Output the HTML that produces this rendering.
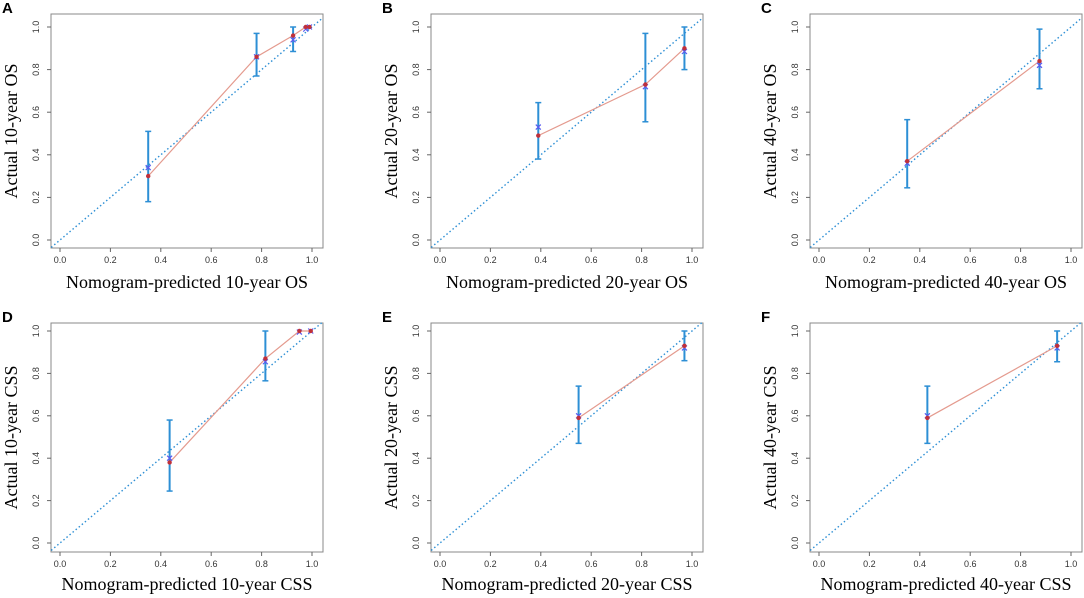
<!DOCTYPE html>
<html><head><meta charset="utf-8"><style>
html,body{margin:0;padding:0;background:#fff;}
svg{display:block;}
</style></head><body>
<svg id="fig" width="1084" height="598" xmlns="http://www.w3.org/2000/svg"></svg>
<script>
const panelLetters = ["A","B","C","D","E","F"];
const xTitles = ["Nomogram-predicted 10-year OS","Nomogram-predicted 20-year OS","Nomogram-predicted 40-year OS","Nomogram-predicted 10-year CSS","Nomogram-predicted 20-year CSS","Nomogram-predicted 40-year CSS"];
const yTitles = ["Actual 10-year OS","Actual 20-year OS","Actual 40-year OS","Actual 10-year CSS","Actual 20-year CSS","Actual 40-year CSS"];
const tickValues = [0,0.2,0.4,0.6,0.8,1.0];
const tickLabels = ["0.0","0.2","0.4","0.6","0.8","1.0"];
const predA = [0.35,0.78,0.925,0.975,0.99];
const obsA  = [0.30,0.86,0.96,1.0,1.0];
const corrA = [0.34,0.86,0.94,0.99,1.0];
const loA   = [0.18,0.77,0.885,null,null];
const hiA   = [0.51,0.97,1.0,null,null];
const predB = [0.39,0.815,0.97];
const obsB  = [0.49,0.73,0.90];
const corrB = [0.53,0.72,0.885];
const loB   = [0.38,0.555,0.80];
const hiB   = [0.645,0.97,1.0];
const predC = [0.35,0.875];
const obsC  = [0.37,0.84];
const corrC = [0.36,0.82];
const loC   = [0.245,0.71];
const hiC   = [0.565,0.99];
const predD = [0.435,0.815,0.95,0.995];
const obsD  = [0.38,0.87,1.0,1.0];
const corrD = [0.40,0.855,0.995,1.0];
const loD   = [0.245,0.765,null,null];
const hiD   = [0.58,1.0,null,null];
const predE = [0.55,0.97];
const obsE  = [0.59,0.93];
const corrE = [0.60,0.92];
const loE   = [0.47,0.86];
const hiE   = [0.74,1.0];
const predF = [0.43,0.945];
const obsF  = [0.59,0.93];
const corrF = [0.60,0.92];
const loF   = [0.47,0.855];
const hiF   = [0.74,1.0];
const allPred=[predA,predB,predC,predD,predE,predF];
const allObs=[obsA,obsB,obsC,obsD,obsE,obsF];
const allCorr=[corrA,corrB,corrC,corrD,corrE,corrF];
const allLo=[loA,loB,loC,loD,loE,loF];
const allHi=[hiA,hiB,hiC,hiD,hiE,hiF];

const NS="http://www.w3.org/2000/svg";
const svg=document.getElementById('fig');
function mk(tag,attrs,parent){const e=document.createElementNS(NS,tag);for(const k in attrs)e.setAttribute(k,attrs[k]);(parent||svg).appendChild(e);return e;}
const colLeft=[51,431,810];
const rows=[{top:14,bottom:248,y0:240,y1:27,xt:288},{top:323,bottom:552,y0:543,y1:331,xt:590}];
for(let p=0;p<6;p++){
  const c=p%3,r=Math.floor(p/3),R=rows[r];
  const L=colLeft[c],W=272;
  const x0=L+9,x1=L+261;
  const sx=v=>x0+(x1-x0)*v, sy=v=>R.y0+(R.y1-R.y0)*v;
  const g=mk('g',{});
  
  
  const lt=mk('text',{x:L-49,y:R.top-1,'font-family':'Liberation Sans, sans-serif','font-weight':'bold','font-size':'15'},g);
  lt.textContent=panelLetters[p];
  
  const box=mk('rect',{x:L,y:R.top,width:W,height:R.bottom-R.top,fill:'none',stroke:'#888','stroke-width':'1'},g);
  
  tickValues.forEach((v,i)=>{
    mk('line',{x1:sx(v),x2:sx(v),y1:R.bottom,y2:R.bottom+4,stroke:'#666'},g);
    const tx=mk('text',{x:sx(v),y:R.bottom+15,'text-anchor':'middle','font-family':'Liberation Sans, sans-serif','font-size':'9',fill:'#333'},g);
    tx.textContent=tickLabels[i];
    
    mk('line',{x1:L-4,x2:L,y1:sy(v),y2:sy(v),stroke:'#666'},g);
    const ty=mk('text',{x:L-12,y:sy(v),'text-anchor':'middle','font-family':'Liberation Sans, sans-serif','font-size':'9',fill:'#333',transform:`rotate(-90 ${L-12} ${sy(v)})`},g);
    ty.textContent=tickLabels[i];
    
  });
  const xt=mk('text',{x:L+W/2,y:R.xt,'text-anchor':'middle','font-family':'Liberation Serif, serif','font-size':'18'},g);
  xt.textContent=xTitles[p];
  
  const yx=L-34,yy=(R.top+R.bottom)/2;
  const yt=mk('text',{x:yx,y:yy,'text-anchor':'middle','font-family':'Liberation Serif, serif','font-size':'18',transform:`rotate(-90 ${yx} ${yy})`},g);
  yt.textContent=yTitles[p];
  
  const d=mk('line',{x1:sx(-0.035),y1:sy(-0.035),x2:sx(1.04),y2:sy(1.04),stroke:'#2d8fd5','stroke-width':'1.4','stroke-dasharray':'1.5,2.5'},g);
  
  const P=allPred[p],O=allObs[p],C=allCorr[p],Lo=allLo[p],Hi=allHi[p];
  const pl=mk('polyline',{points:P.map((v,i)=>sx(v)+','+sy(O[i])).join(' '),fill:'none',stroke:'#e49a8e','stroke-width':'1.2'},g);
  
  P.forEach((v,i)=>{
    const X=sx(v);
    if(Lo[i]!=null){
      const eb=mk('line',{x1:X,x2:X,y1:sy(Lo[i]),y2:sy(Hi[i]),stroke:'#2d8fd5','stroke-width':'2'},g);
      
      mk('line',{x1:X-3,x2:X+3,y1:sy(Lo[i]),y2:sy(Lo[i]),stroke:'#2d8fd5','stroke-width':'1.5'},g);
      mk('line',{x1:X-3,x2:X+3,y1:sy(Hi[i]),y2:sy(Hi[i]),stroke:'#2d8fd5','stroke-width':'1.5'},g);
    }
    const cy=sy(C[i]);
    const cx=mk('path',{d:`M${X-2.5},${cy-2.5}L${X+2.5},${cy+2.5}M${X-2.5},${cy+2.5}L${X+2.5},${cy-2.5}`,stroke:'#5a5af0','stroke-width':'1.2'},g);
    
    const pt=mk('circle',{cx:X,cy:sy(O[i]),r:2.2,fill:'#c0303a'},g);
    
  });
}
</script>
</body></html>
